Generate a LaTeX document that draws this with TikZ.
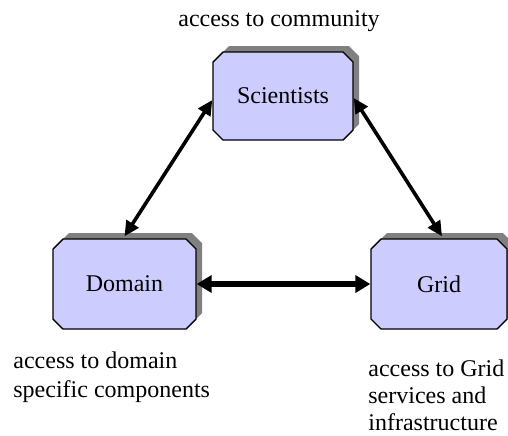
\documentclass[tikz,border=0pt]{standalone}
\usepackage{fontspec}
\setmainfont{Liberation Serif}
\usetikzlibrary{shapes.misc,shadows,arrows.meta}
\definecolor{boxfill}{HTML}{CCCCFF}
\definecolor{shadowgray}{HTML}{808080}
\tikzset{
  actor/.style={chamfered rectangle, chamfered rectangle xsep=2.5pt,
    chamfered rectangle ysep=2.5pt, draw=black, line width=0.7pt,
    fill=boxfill, inner sep=0pt, font=\fontsize{12}{14}\selectfont,
    general shadow={shadow xshift=3pt, shadow yshift=3pt, fill=shadowgray}},
  link/.style={line width=1.8pt, {Triangle[length=7.5pt,width=7pt]}-{Triangle[length=7.5pt,width=7pt]}},
  biglink/.style={line width=2.8pt, {Triangle[length=7.5pt,width=8.5pt]}-{Triangle[length=7.5pt,width=8.5pt]}},
  caption/.style={inner sep=0pt, font=\fontsize{12}{14}\selectfont}
}
\begin{document}
\begin{tikzpicture}[x=0.5pt,y=-0.5pt]
  \useasboundingbox (0,0) rectangle (508,435);
  % the three parties
  \node[actor, minimum width=70pt, minimum height=44pt] (sci) at (283,96) {Scientists};
  \node[actor, minimum width=71.5pt, minimum height=45pt] (dom) at (124.5,284) {Domain};
  \node[actor, minimum width=68pt, minimum height=45pt] (grid) at (439,284) {Grid};
  % relations between them
  \draw[link] ([yshift=-2pt]sci.west) -- ([yshift=1pt]dom.north);
  \draw[link] ([yshift=-1pt]sci.east) -- ([xshift=1.5pt,yshift=1pt]grid.north);
  \draw[biglink] (dom.east) -- (grid.west);
  % captions (base anchor of a multi-line node sits on its last line)
  \node[caption, anchor=base] (tcap) at (279,26) {access to community};
  \node[caption, anchor=base west, align=left, font=\fontsize{12}{14.5}\selectfont] (lcap) at (13,397)
    {access to domain\\specific components};
  \node[caption, anchor=base west, align=left, font=\fontsize{12}{13.5}\selectfont] (rcap) at (368,430)
    {access to Grid\\services and\\infrastructure};
\end{tikzpicture}
\end{document}
